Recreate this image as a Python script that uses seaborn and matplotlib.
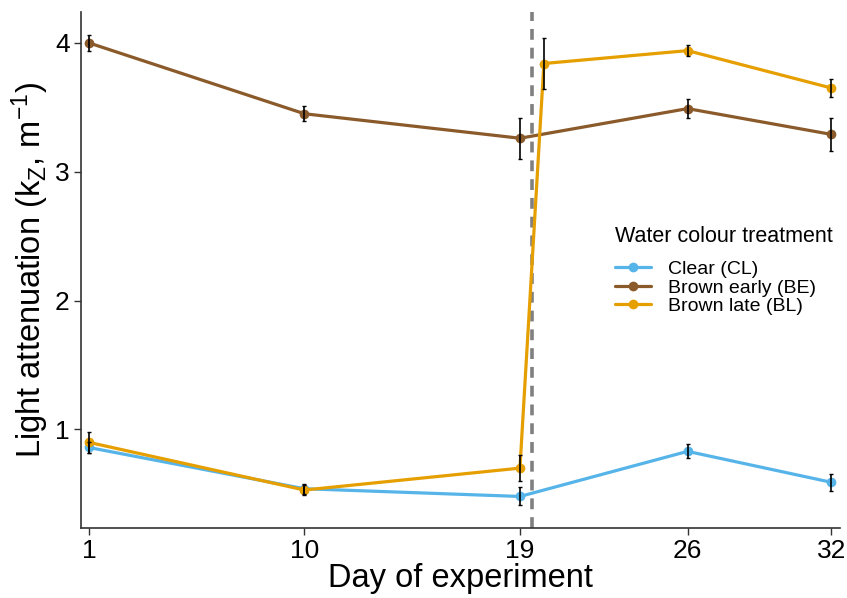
import matplotlib
matplotlib.use("Agg")
import matplotlib.pyplot as plt
import seaborn as sns
import pandas as pd

# Data
cl_days = [1, 10, 19, 26, 32]
cl_vals = [0.86, 0.54, 0.48, 0.83, 0.59]
cl_err = [0.04, 0.04, 0.07, 0.055, 0.065]

be_days = [1, 10, 19, 26, 32]
be_vals = [4.00, 3.45, 3.26, 3.49, 3.29]
be_err = [0.063, 0.06, 0.16, 0.074, 0.13]

bl_days = [1, 10, 19, 20, 26, 32]
bl_vals = [0.90, 0.53, 0.70, 3.84, 3.94, 3.65]
bl_err = [0.08, 0.04, 0.10, 0.20, 0.044, 0.07]

labels = ["Clear (CL)", "Brown early (BE)", "Brown late (BL)"]
colors = ["#56B4E9", "#8B5A2B", "#E69F00"]
xticks = [1, 10, 19, 26, 32]
yticks = [1, 2, 3, 4]
treatment_day = 19.5

sns.set_style("white")
plt.rcParams['font.family'] = ['Liberation Sans', 'DejaVu Sans']
plt.rcParams['mathtext.fontset'] = 'custom'
plt.rcParams['mathtext.rm'] = 'Liberation Sans'
plt.rcParams['mathtext.it'] = 'Liberation Sans'
plt.rcParams['text.color'] = 'black'
plt.rcParams['axes.labelcolor'] = 'black'

df = pd.concat([
    pd.DataFrame({"day": cl_days, "kz": cl_vals, "err": cl_err, "trt": labels[0]}),
    pd.DataFrame({"day": be_days, "kz": be_vals, "err": be_err, "trt": labels[1]}),
    pd.DataFrame({"day": bl_days, "kz": bl_vals, "err": bl_err, "trt": labels[2]}),
], ignore_index=True)

fig = plt.figure(figsize=(8.47, 5.98), dpi=100)
ax = fig.add_axes([0.0956, 0.117, 0.896, 0.863])

ax.axvline(treatment_day, color="#808080", ls=(0, (3, 2.2)), lw=2.6, zorder=1)

sns.lineplot(data=df, x="day", y="kz", hue="trt", hue_order=labels,
             palette=colors, marker="o", markersize=7, markeredgewidth=0,
             linewidth=2.3, ax=ax, zorder=2)

for lab in labels:
    sub = df[df.trt == lab]
    ax.errorbar(sub.day, sub.kz, yerr=sub.err, fmt="none", ecolor="black",
                elinewidth=1.2, capsize=1.5, capthick=1.0, zorder=3)

ax.set_xlim(0.67, 32.36)
ax.set_ylim(0.235, 4.24)
ax.set_xticks(xticks)
ax.set_yticks(yticks)
ax.tick_params(axis="both", labelsize=19, length=5, width=1,
               direction="out", bottom=True, left=True, pad=3,
               colors="#333333", labelcolor="black")

for s in ["top", "right"]:
    ax.spines[s].set_visible(False)
for s in ["left", "bottom"]:
    ax.spines[s].set_color("#333333")
    ax.spines[s].set_linewidth(1.2)

ax.set_xlabel("Day of experiment", fontsize=23.5, labelpad=0, color="black")
ax.set_ylabel(r"Light attenuation (k$_{\mathrm{Z}}$, m$^{-1}$)", fontsize=23.5,
              labelpad=3, color="black")

leg = ax.legend(title="Water colour treatment", loc="upper left",
                bbox_to_anchor=(0.693, 0.6), frameon=False, fontsize=14,
                title_fontsize=15.5, handlelength=1.85, handletextpad=0.87,
                labelspacing=0.05, borderaxespad=0, alignment="left",
                labelcolor="black")
leg.get_title().set_color("black")
leg._legend_box.sep = 9.5
for h in leg.legend_handles:
    h.set_linewidth(2.3)

fig.savefig("out.png", dpi=100)
